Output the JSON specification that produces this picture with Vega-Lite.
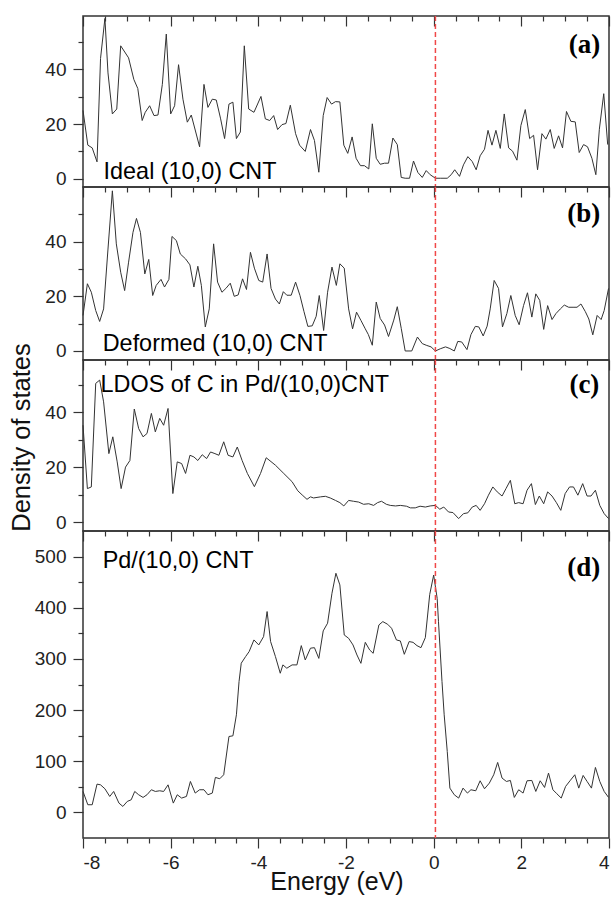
{
"$schema": "https://vega.github.io/schema/vega-lite/v6.json",
"padding": {"left": 8, "top": 14, "right": 5, "bottom": 0},
"spacing": 0,
"bounds": "flush",
"config": {
  "view": {"stroke": "#333", "strokeWidth": 1.5},
  "font": "Liberation Sans",
  "axis": {"grid": false, "domain": false, "tickColor": "#333", "tickWidth": 1.2, "labelFont": "Liberation Sans", "labelFontSize": 19, "labelColor": "#222", "titleFont": "Liberation Sans", "titleFontSize": 25.5, "titleFontWeight": "normal", "titleColor": "#111"}
},
"datasets": {
"a": [{"E":-8.00,"v":25},{"E":-7.89,"v":12.3},{"E":-7.79,"v":11.3},{"E":-7.68,"v":6.2},{"E":-7.60,"v":44},{"E":-7.50,"v":58.6},{"E":-7.43,"v":38.7},{"E":-7.33,"v":23.7},{"E":-7.23,"v":25.5},{"E":-7.14,"v":48.6},{"E":-6.96,"v":44.2},{"E":-6.84,"v":36.3},{"E":-6.75,"v":33},{"E":-6.65,"v":21.3},{"E":-6.58,"v":24.3},{"E":-6.48,"v":26.7},{"E":-6.38,"v":23.1},{"E":-6.29,"v":23.3},{"E":-6.19,"v":34.5},{"E":-6.10,"v":52.9},{"E":-6.00,"v":23.7},{"E":-5.91,"v":26.7},{"E":-5.82,"v":41.7},{"E":-5.72,"v":29.1},{"E":-5.62,"v":20.7},{"E":-5.53,"v":23.3},{"E":-5.34,"v":11.7},{"E":-5.24,"v":34.5},{"E":-5.15,"v":26.1},{"E":-5.05,"v":29.1},{"E":-4.96,"v":28.8},{"E":-4.86,"v":21.9},{"E":-4.77,"v":14.7},{"E":-4.67,"v":27.3},{"E":-4.58,"v":28},{"E":-4.50,"v":14.7},{"E":-4.41,"v":17.1},{"E":-4.32,"v":48.6},{"E":-4.22,"v":25.5},{"E":-4.10,"v":24.3},{"E":-3.94,"v":30.1},{"E":-3.84,"v":21.9},{"E":-3.74,"v":21.3},{"E":-3.65,"v":23.1},{"E":-3.56,"v":18},{"E":-3.46,"v":19.8},{"E":-3.37,"v":20.2},{"E":-3.27,"v":26.9},{"E":-3.15,"v":16.5},{"E":-3.06,"v":12.3},{"E":-2.93,"v":10},{"E":-2.81,"v":18},{"E":-2.72,"v":14},{"E":-2.62,"v":2.4},{"E":-2.52,"v":23.1},{"E":-2.43,"v":29.7},{"E":-2.33,"v":27.3},{"E":-2.24,"v":28.2},{"E":-2.14,"v":28.1},{"E":-2.05,"v":12.3},{"E":-1.96,"v":9.3},{"E":-1.86,"v":15.3},{"E":-1.77,"v":7.5},{"E":-1.67,"v":4.8},{"E":-1.58,"v":4.8},{"E":-1.48,"v":3.6},{"E":-1.40,"v":20.1},{"E":-1.31,"v":7.5},{"E":-1.22,"v":5.3},{"E":-1.12,"v":5.7},{"E":-1.03,"v":5.7},{"E":-0.93,"v":14.9},{"E":-0.83,"v":12.5},{"E":-0.74,"v":0.5},{"E":-0.65,"v":0.2},{"E":-0.55,"v":0.2},{"E":-0.46,"v":6.5},{"E":-0.36,"v":2.3},{"E":-0.26,"v":0.5},{"E":-0.17,"v":3},{"E":-0.08,"v":1.5},{"E":0.04,"v":0.2},{"E":0.15,"v":0.2},{"E":0.31,"v":0.2},{"E":0.40,"v":1.5},{"E":0.48,"v":3.3},{"E":0.59,"v":0.9},{"E":0.68,"v":5.1},{"E":0.78,"v":8.1},{"E":0.88,"v":6.3},{"E":0.97,"v":3.3},{"E":1.06,"v":8.4},{"E":1.16,"v":10.8},{"E":1.24,"v":17.7},{"E":1.33,"v":12.3},{"E":1.42,"v":17.7},{"E":1.52,"v":11.1},{"E":1.61,"v":23.7},{"E":1.71,"v":11.3},{"E":1.80,"v":10.1},{"E":1.90,"v":6.8},{"E":1.99,"v":19.5},{"E":2.09,"v":25.3},{"E":2.19,"v":14.7},{"E":2.28,"v":15.9},{"E":2.37,"v":3.3},{"E":2.47,"v":16.5},{"E":2.56,"v":14.5},{"E":2.66,"v":18},{"E":2.75,"v":11.1},{"E":2.85,"v":15.7},{"E":2.94,"v":11.3},{"E":3.03,"v":24.6},{"E":3.13,"v":21},{"E":3.23,"v":20.8},{"E":3.32,"v":9.6},{"E":3.42,"v":12.5},{"E":3.51,"v":11.7},{"E":3.61,"v":7.5},{"E":3.70,"v":1.5},{"E":3.78,"v":18.1},{"E":3.88,"v":31.1},{"E":3.97,"v":12.5}],
"b": [{"E":-8.00,"v":13},{"E":-7.90,"v":24.6},{"E":-7.81,"v":21.5},{"E":-7.71,"v":14.8},{"E":-7.62,"v":10.8},{"E":-7.53,"v":15.4},{"E":-7.43,"v":37.3},{"E":-7.33,"v":58.6},{"E":-7.24,"v":39.2},{"E":-7.14,"v":28.8},{"E":-7.05,"v":22.1},{"E":-6.96,"v":32.5},{"E":-6.86,"v":43.4},{"E":-6.78,"v":48.5},{"E":-6.69,"v":43.4},{"E":-6.59,"v":28.2},{"E":-6.50,"v":33.5},{"E":-6.41,"v":20.3},{"E":-6.33,"v":24},{"E":-6.22,"v":26.2},{"E":-6.14,"v":23.4},{"E":-6.04,"v":26.2},{"E":-5.97,"v":41.9},{"E":-5.87,"v":40.4},{"E":-5.78,"v":35.5},{"E":-5.66,"v":33.7},{"E":-5.56,"v":31.5},{"E":-5.47,"v":23.4},{"E":-5.38,"v":31},{"E":-5.30,"v":24},{"E":-5.21,"v":8.8},{"E":-5.12,"v":15.4},{"E":-5.02,"v":39.2},{"E":-4.93,"v":25.2},{"E":-4.83,"v":21.5},{"E":-4.74,"v":22.9},{"E":-4.64,"v":24.8},{"E":-4.55,"v":20},{"E":-4.46,"v":20.5},{"E":-4.36,"v":26.4},{"E":-4.27,"v":22.5},{"E":-4.18,"v":36.1},{"E":-4.09,"v":30.3},{"E":-3.99,"v":25.8},{"E":-3.90,"v":25.2},{"E":-3.80,"v":35.5},{"E":-3.71,"v":22.9},{"E":-3.61,"v":19},{"E":-3.52,"v":17.2},{"E":-3.43,"v":21.7},{"E":-3.35,"v":20.4},{"E":-3.25,"v":20.4},{"E":-3.15,"v":25.2},{"E":-3.05,"v":20.3},{"E":-2.96,"v":14.5},{"E":-2.87,"v":9},{"E":-2.77,"v":9.2},{"E":-2.68,"v":12.7},{"E":-2.61,"v":20.3},{"E":-2.51,"v":7.5},{"E":-2.42,"v":21.5},{"E":-2.32,"v":30.7},{"E":-2.22,"v":24},{"E":-2.14,"v":31.9},{"E":-2.04,"v":30.3},{"E":-1.94,"v":15.4},{"E":-1.85,"v":8.1},{"E":-1.76,"v":14.2},{"E":-1.66,"v":11.2},{"E":-1.56,"v":8.1},{"E":-1.49,"v":6},{"E":-1.40,"v":2.1},{"E":-1.31,"v":17.9},{"E":-1.22,"v":11.9},{"E":-1.12,"v":9.5},{"E":-1.03,"v":5.3},{"E":-0.91,"v":11.3},{"E":-0.83,"v":16.2},{"E":-0.74,"v":8.3},{"E":-0.65,"v":0},{"E":-0.50,"v":0},{"E":-0.37,"v":5.1},{"E":-0.26,"v":2.7},{"E":-0.17,"v":2.1},{"E":-0.06,"v":1.5},{"E":0.04,"v":0},{"E":0.15,"v":0.8},{"E":0.27,"v":1.5},{"E":0.37,"v":0.9},{"E":0.47,"v":0},{"E":0.55,"v":3.5},{"E":0.64,"v":3.3},{"E":0.76,"v":0.5},{"E":0.85,"v":6},{"E":0.95,"v":9},{"E":1.03,"v":8.8},{"E":1.13,"v":5.5},{"E":1.22,"v":9.1},{"E":1.29,"v":15.4},{"E":1.38,"v":25.8},{"E":1.48,"v":22.9},{"E":1.57,"v":8.8},{"E":1.67,"v":13.7},{"E":1.76,"v":20.3},{"E":1.86,"v":13},{"E":1.95,"v":9.6},{"E":2.05,"v":16.6},{"E":2.14,"v":21.3},{"E":2.24,"v":12.4},{"E":2.33,"v":20.9},{"E":2.42,"v":18.5},{"E":2.51,"v":7.9},{"E":2.60,"v":16.6},{"E":2.70,"v":11.5},{"E":2.79,"v":13.7},{"E":2.89,"v":15.4},{"E":2.98,"v":16.8},{"E":3.08,"v":16},{"E":3.18,"v":16},{"E":3.27,"v":16},{"E":3.36,"v":17.2},{"E":3.46,"v":14.4},{"E":3.54,"v":11.7},{"E":3.63,"v":5.9},{"E":3.73,"v":13},{"E":3.82,"v":11.5},{"E":3.89,"v":14.8},{"E":3.99,"v":22.9}],
"c": [{"E":-8.00,"v":35.3},{"E":-7.90,"v":12.3},{"E":-7.81,"v":12.9},{"E":-7.71,"v":50.5},{"E":-7.62,"v":51.7},{"E":-7.53,"v":43.8},{"E":-7.41,"v":25},{"E":-7.32,"v":31.1},{"E":-7.22,"v":22},{"E":-7.13,"v":12.3},{"E":-7.03,"v":20.1},{"E":-6.93,"v":22.5},{"E":-6.83,"v":41.2},{"E":-6.73,"v":34.1},{"E":-6.63,"v":31.1},{"E":-6.54,"v":32.3},{"E":-6.44,"v":39.6},{"E":-6.35,"v":32.9},{"E":-6.25,"v":37.8},{"E":-6.16,"v":35.3},{"E":-6.06,"v":41.4},{"E":-5.95,"v":10.5},{"E":-5.85,"v":22},{"E":-5.75,"v":21.4},{"E":-5.66,"v":17.8},{"E":-5.56,"v":24.4},{"E":-5.47,"v":23.8},{"E":-5.38,"v":22.5},{"E":-5.28,"v":24.6},{"E":-5.18,"v":23.2},{"E":-5.09,"v":25.6},{"E":-4.99,"v":25},{"E":-4.90,"v":24.4},{"E":-4.79,"v":29.3},{"E":-4.69,"v":24.4},{"E":-4.58,"v":23.8},{"E":-4.48,"v":27.4},{"E":-4.37,"v":22.5},{"E":-4.25,"v":17.8},{"E":-4.09,"v":13},{"E":-3.95,"v":17.8},{"E":-3.82,"v":23.5},{"E":-3.61,"v":20.8},{"E":-3.42,"v":17.8},{"E":-3.23,"v":14.8},{"E":-3.10,"v":11.5},{"E":-3.00,"v":10},{"E":-2.89,"v":8.4},{"E":-2.81,"v":9.3},{"E":-2.74,"v":8.9},{"E":-2.58,"v":9.3},{"E":-2.47,"v":9.5},{"E":-2.36,"v":8.9},{"E":-2.24,"v":8.0},{"E":-2.14,"v":7.2},{"E":-2.05,"v":6},{"E":-1.94,"v":8},{"E":-1.83,"v":7.7},{"E":-1.71,"v":7.4},{"E":-1.60,"v":6.6},{"E":-1.48,"v":6.8},{"E":-1.37,"v":6.2},{"E":-1.28,"v":7.2},{"E":-1.19,"v":7.7},{"E":-1.08,"v":6.6},{"E":-0.99,"v":6.2},{"E":-0.87,"v":6},{"E":-0.76,"v":6.2},{"E":-0.62,"v":5.9},{"E":-0.53,"v":5.3},{"E":-0.42,"v":5.3},{"E":-0.31,"v":5.9},{"E":-0.19,"v":5.6},{"E":-0.08,"v":6},{"E":0.04,"v":6.2},{"E":0.14,"v":4.8},{"E":0.23,"v":5.6},{"E":0.34,"v":3.8},{"E":0.44,"v":3.6},{"E":0.57,"v":1.4},{"E":0.68,"v":3.2},{"E":0.78,"v":3.5},{"E":0.88,"v":5.6},{"E":0.97,"v":6.2},{"E":1.06,"v":4.4},{"E":1.16,"v":6.8},{"E":1.25,"v":9.9},{"E":1.35,"v":12.9},{"E":1.45,"v":11.1},{"E":1.56,"v":9.6},{"E":1.65,"v":12.3},{"E":1.75,"v":15.3},{"E":1.85,"v":6.8},{"E":1.94,"v":7.2},{"E":2.04,"v":6.8},{"E":2.13,"v":11.7},{"E":2.23,"v":14.1},{"E":2.32,"v":6.5},{"E":2.41,"v":9.6},{"E":2.51,"v":6.8},{"E":2.60,"v":11.1},{"E":2.70,"v":9.6},{"E":2.80,"v":7.2},{"E":2.90,"v":4.4},{"E":3.00,"v":10.5},{"E":3.10,"v":12.9},{"E":3.19,"v":12.9},{"E":3.29,"v":9.9},{"E":3.40,"v":14.1},{"E":3.50,"v":9.6},{"E":3.59,"v":9.6},{"E":3.69,"v":11.7},{"E":3.79,"v":6.2},{"E":3.89,"v":3.2},{"E":3.99,"v":1.4}],
"d": [{"E":-8.00,"v":41},{"E":-7.89,"v":15},{"E":-7.79,"v":15},{"E":-7.68,"v":55.3},{"E":-7.60,"v":53.9},{"E":-7.50,"v":46.2},{"E":-7.39,"v":31.2},{"E":-7.30,"v":41},{"E":-7.18,"v":18.2},{"E":-7.09,"v":11.7},{"E":-6.99,"v":21.5},{"E":-6.90,"v":24.7},{"E":-6.82,"v":41},{"E":-6.73,"v":34.5},{"E":-6.63,"v":29.3},{"E":-6.54,"v":34.5},{"E":-6.44,"v":44.3},{"E":-6.35,"v":41},{"E":-6.25,"v":42.3},{"E":-6.16,"v":41},{"E":-6.06,"v":53.9},{"E":-5.94,"v":18.2},{"E":-5.85,"v":34.5},{"E":-5.75,"v":28},{"E":-5.64,"v":31.2},{"E":-5.55,"v":60.5},{"E":-5.44,"v":37.8},{"E":-5.34,"v":44.3},{"E":-5.24,"v":44.3},{"E":-5.15,"v":34.5},{"E":-5.05,"v":37.8},{"E":-4.98,"v":68.4},{"E":-4.88,"v":65.8},{"E":-4.79,"v":73.6},{"E":-4.67,"v":148.4},{"E":-4.58,"v":149.7},{"E":-4.50,"v":190.8},{"E":-4.44,"v":256},{"E":-4.39,"v":291.6},{"E":-4.29,"v":304.6},{"E":-4.21,"v":314.3},{"E":-4.10,"v":337.1},{"E":-3.99,"v":327.3},{"E":-3.88,"v":343.6},{"E":-3.80,"v":392.6},{"E":-3.72,"v":333.9},{"E":-3.61,"v":304.6},{"E":-3.50,"v":272},{"E":-3.44,"v":288.3},{"E":-3.35,"v":281.8},{"E":-3.23,"v":288.3},{"E":-3.12,"v":288.3},{"E":-3.02,"v":326},{"E":-2.93,"v":298},{"E":-2.81,"v":321},{"E":-2.72,"v":322},{"E":-2.62,"v":301},{"E":-2.52,"v":354.8},{"E":-2.42,"v":369.8},{"E":-2.32,"v":428.4},{"E":-2.23,"v":467.4},{"E":-2.14,"v":444.6},{"E":-2.04,"v":346.8},{"E":-1.94,"v":340.3},{"E":-1.84,"v":327.3},{"E":-1.75,"v":307.7},{"E":-1.66,"v":291.4},{"E":-1.56,"v":332.4},{"E":-1.46,"v":317.5},{"E":-1.38,"v":311},{"E":-1.25,"v":366.4},{"E":-1.16,"v":372.9},{"E":-1.05,"v":367.7},{"E":-0.96,"v":359.9},{"E":-0.85,"v":337.1},{"E":-0.76,"v":335.1},{"E":-0.67,"v":309},{"E":-0.56,"v":333.9},{"E":-0.47,"v":332.4},{"E":-0.38,"v":325.9},{"E":-0.29,"v":322},{"E":-0.19,"v":341.6},{"E":-0.09,"v":426.1},{"E":0.00,"v":463.9},{"E":0.08,"v":418.3},{"E":0.11,"v":372.7},{"E":0.19,"v":256},{"E":0.24,"v":190.8},{"E":0.31,"v":119.1},{"E":0.37,"v":47.5},{"E":0.47,"v":34.5},{"E":0.57,"v":28},{"E":0.67,"v":47.5},{"E":0.77,"v":37.8},{"E":0.85,"v":44.3},{"E":0.96,"v":42.3},{"E":1.06,"v":61.8},{"E":1.16,"v":46.2},{"E":1.27,"v":57.3},{"E":1.37,"v":73.6},{"E":1.46,"v":97.7},{"E":1.56,"v":67.1},{"E":1.66,"v":60.5},{"E":1.75,"v":62.5},{"E":1.84,"v":29.3},{"E":1.94,"v":44.3},{"E":2.04,"v":37.8},{"E":2.13,"v":61.8},{"E":2.24,"v":62.5},{"E":2.33,"v":41},{"E":2.43,"v":61.8},{"E":2.53,"v":48.8},{"E":2.62,"v":76.9},{"E":2.72,"v":44.3},{"E":2.81,"v":36.5},{"E":2.91,"v":28},{"E":3.01,"v":50.8},{"E":3.11,"v":61.8},{"E":3.22,"v":73.6},{"E":3.31,"v":47.5},{"E":3.41,"v":72.3},{"E":3.50,"v":60.5},{"E":3.60,"v":47.5},{"E":3.69,"v":87.9},{"E":3.79,"v":60.5},{"E":3.89,"v":41},{"E":3.99,"v":29.3}]
},
"vconcat": [
{
 "width": 526, "height": 171,
 "resolve": {"axis": {"x": "independent", "y": "independent"}},
 "layer": [
  {"data": {"name": "a"}, "mark": {"type": "line", "color": "#333", "strokeWidth": 1},
   "encoding": {
    "x": {"field": "E", "type": "quantitative", "scale": {"domain": [-8, 4], "nice": false, "zero": false}, "axis": {"orient": "top", "values": [-8,-6,-4,-2,0,2,4], "tickSize": -10, "labels": false, "title": null}},
    "y": {"field": "v", "type": "quantitative", "scale": {"domain": [-3, 59.5], "nice": false, "zero": false}, "axis": {"orient": "left", "values": [0,20,40], "tickSize": 10, "labelPadding": 7, "title": null}}}},
  {"data": {"values": [{"E": 0.04}]}, "mark": {"type": "rule", "color": "#f04848", "strokeDash": [5,3], "strokeWidth": 1.5},
   "encoding": {"x": {"field": "E", "type": "quantitative", "axis": {"orient": "top", "values": [-7.5,-7,-6.5,-5.5,-5,-4.5,-3.5,-3,-2.5,-1.5,-1,-0.5,0.5,1,1.5,2.5,3,3.5], "tickSize": -5, "labels": false, "title": null}}}},
  {"data": {"values": [{"E": -7.53, "v": 0, "t": "Ideal (10,0) CNT"}]}, "mark": {"type": "text", "align": "left", "baseline": "alphabetic", "fontSize": 23.4, "font": "Liberation Sans", "color": "#000"},
   "encoding": {"x": {"field": "E", "type": "quantitative", "axis": null}, "y": {"field": "v", "type": "quantitative", "axis": {"orient": "left", "values": [10,30,50], "tickSize": 5, "labels": false, "title": null}}, "text": {"field": "t"}}},
  {"data": {"values": [{"E": 3.8, "v": 49, "t": "(a)"}]}, "mark": {"type": "text", "align": "right", "baseline": "middle", "fontSize": 27, "font": "Liberation Serif", "fontWeight": "bold", "color": "#000"},
   "encoding": {"x": {"field": "E", "type": "quantitative", "axis": null}, "y": {"field": "v", "type": "quantitative", "axis": null}, "text": {"field": "t"}}}
 ]
},
{
 "width": 526, "height": 173,
 "resolve": {"axis": {"x": "independent", "y": "independent"}},
 "layer": [
  {"data": {"name": "b"}, "mark": {"type": "line", "color": "#333", "strokeWidth": 1},
   "encoding": {
    "x": {"field": "E", "type": "quantitative", "scale": {"domain": [-8, 4], "nice": false, "zero": false}, "axis": {"orient": "top", "values": [-8,-6,-4,-2,0,2,4], "tickSize": -10, "labels": false, "title": null}},
    "y": {"field": "v", "type": "quantitative", "scale": {"domain": [-3.3, 60], "nice": false, "zero": false}, "axis": {"orient": "left", "values": [0,20,40], "tickSize": 10, "labelPadding": 7, "title": null}}}},
  {"data": {"values": [{"E": 0.04}]}, "mark": {"type": "rule", "color": "#f04848", "strokeDash": [5,3], "strokeWidth": 1.5},
   "encoding": {"x": {"field": "E", "type": "quantitative", "axis": {"orient": "top", "values": [-7.5,-7,-6.5,-5.5,-5,-4.5,-3.5,-3,-2.5,-1.5,-1,-0.5,0.5,1,1.5,2.5,3,3.5], "tickSize": -5, "labels": false, "title": null}}}},
  {"data": {"values": [{"E": -7.55, "v": 0, "t": "Deformed (10,0) CNT"}]}, "mark": {"type": "text", "align": "left", "baseline": "alphabetic", "fontSize": 23.4, "font": "Liberation Sans", "color": "#000"},
   "encoding": {"x": {"field": "E", "type": "quantitative", "axis": null}, "y": {"field": "v", "type": "quantitative", "axis": {"orient": "left", "values": [10,30,50], "tickSize": 5, "labels": false, "title": null}}, "text": {"field": "t"}}},
  {"data": {"values": [{"E": 3.8, "v": 50, "t": "(b)"}]}, "mark": {"type": "text", "align": "right", "baseline": "middle", "fontSize": 27, "font": "Liberation Serif", "fontWeight": "bold", "color": "#000"},
   "encoding": {"x": {"field": "E", "type": "quantitative", "axis": null}, "y": {"field": "v", "type": "quantitative", "axis": null}, "text": {"field": "t"}}}
 ]
},
{
 "width": 526, "height": 171,
 "resolve": {"axis": {"x": "independent", "y": "independent"}},
 "layer": [
  {"data": {"name": "c"}, "mark": {"type": "line", "color": "#333", "strokeWidth": 1},
   "encoding": {
    "x": {"field": "E", "type": "quantitative", "scale": {"domain": [-8, 4], "nice": false, "zero": false}, "axis": {"orient": "top", "values": [-8,-6,-4,-2,0,2,4], "tickSize": -10, "labels": false, "title": null}},
    "y": {"field": "v", "type": "quantitative", "scale": {"domain": [-3.1, 59], "nice": false, "zero": false}, "axis": {"orient": "left", "values": [0,20,40], "tickSize": 10, "labelPadding": 7, "title": "Density of states", "titleX": -49, "titleY": 77}}}},
  {"data": {"values": [{"E": 0.04}]}, "mark": {"type": "rule", "color": "#f04848", "strokeDash": [5,3], "strokeWidth": 1.5},
   "encoding": {"x": {"field": "E", "type": "quantitative", "axis": {"orient": "top", "values": [-7.5,-7,-6.5,-5.5,-5,-4.5,-3.5,-3,-2.5,-1.5,-1,-0.5,0.5,1,1.5,2.5,3,3.5], "tickSize": -5, "labels": false, "title": null}}}},
  {"data": {"values": [{"E": -7.6, "v": 47.5, "t": "LDOS of C in Pd/(10,0)CNT"}]}, "mark": {"type": "text", "align": "left", "baseline": "alphabetic", "fontSize": 23.4, "font": "Liberation Sans", "color": "#000"},
   "encoding": {"x": {"field": "E", "type": "quantitative", "axis": null}, "y": {"field": "v", "type": "quantitative", "axis": {"orient": "left", "values": [10,30,50], "tickSize": 5, "labels": false, "title": null}}, "text": {"field": "t"}}},
  {"data": {"values": [{"E": 3.78, "v": 50, "t": "(c)"}]}, "mark": {"type": "text", "align": "right", "baseline": "middle", "fontSize": 27, "font": "Liberation Serif", "fontWeight": "bold", "color": "#000"},
   "encoding": {"x": {"field": "E", "type": "quantitative", "axis": null}, "y": {"field": "v", "type": "quantitative", "axis": null}, "text": {"field": "t"}}}
 ]
},
{
 "width": 526, "height": 307,
 "resolve": {"axis": {"x": "independent", "y": "independent"}},
 "layer": [
  {"data": {"name": "d"}, "mark": {"type": "line", "color": "#333", "strokeWidth": 1},
   "encoding": {
    "x": {"field": "E", "type": "quantitative", "scale": {"domain": [-8, 4], "nice": false, "zero": false}, "axis": {"orient": "top", "values": [-8,-6,-4,-2,0,2,4], "tickSize": -10, "labels": false, "title": null}},
    "y": {"field": "v", "type": "quantitative", "scale": {"domain": [-50, 550], "nice": false, "zero": false}, "axis": {"orient": "left", "values": [0,100,200,300,400,500], "tickSize": 10, "labelPadding": 7, "title": null}}}},
  {"data": {"values": [{"E": 0.04}]}, "mark": {"type": "rule", "color": "#f04848", "strokeDash": [5,3], "strokeWidth": 1.5},
   "encoding": {"x": {"field": "E", "type": "quantitative", "axis": {"orient": "top", "values": [-7.5,-7,-6.5,-5.5,-5,-4.5,-3.5,-3,-2.5,-1.5,-1,-0.5,0.5,1,1.5,2.5,3,3.5], "tickSize": -5, "labels": false, "title": null}}}},
  {"data": {"values": [{"E": -7.55, "v": 478, "t": "Pd/(10,0) CNT"}]}, "mark": {"type": "text", "align": "left", "baseline": "alphabetic", "fontSize": 23.4, "font": "Liberation Sans", "color": "#000"},
   "encoding": {"x": {"field": "E", "type": "quantitative", "axis": {"orient": "bottom", "values": [-8,-6,-4,-2,0,2,4], "tickSize": 10, "labelPadding": 5, "labelExpr": "datum.value", "title": "Energy (eV)", "titleFontSize": 25, "titlePadding": -3, "titleX": 253.5}}, "y": {"field": "v", "type": "quantitative", "axis": {"orient": "left", "values": [50,150,250,350,450], "tickSize": 5, "labels": false, "title": null}}, "text": {"field": "t"}}},
  {"data": {"values": [{"E": 3.8, "v": 478, "t": "(d)"}]}, "mark": {"type": "text", "align": "right", "baseline": "middle", "fontSize": 27, "font": "Liberation Serif", "fontWeight": "bold", "color": "#000"},
   "encoding": {"x": {"field": "E", "type": "quantitative", "axis": {"orient": "bottom", "values": [-7.5,-7,-6.5,-5.5,-5,-4.5,-3.5,-3,-2.5,-1.5,-1,-0.5,0.5,1,1.5,2.5,3,3.5], "tickSize": 5, "labels": false, "title": null}}, "y": {"field": "v", "type": "quantitative", "axis": null}, "text": {"field": "t"}}}
 ]
}
]
}
